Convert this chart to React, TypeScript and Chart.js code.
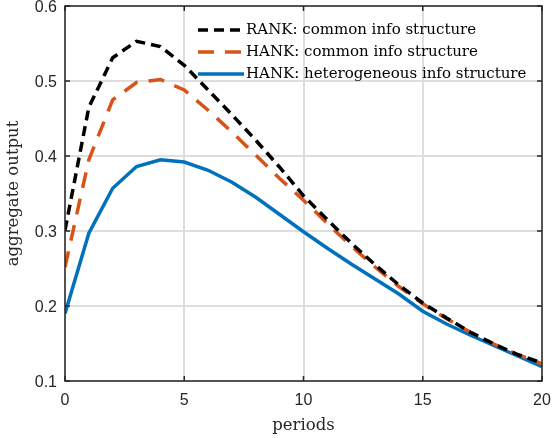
import React, { useEffect, useRef } from "react";
import { Chart, registerables } from "chart.js";

Chart.register(...registerables);

const periods = [0, 1, 2, 3, 4, 5, 6, 7, 8, 9, 10, 11, 12, 13, 14, 15, 16, 17, 18, 19, 20];
const rankCommon = [0.301, 0.465, 0.531, 0.553, 0.546, 0.521, 0.488, 0.455, 0.421, 0.385, 0.347, 0.315, 0.284, 0.255, 0.228, 0.204, 0.184, 0.165, 0.149, 0.135, 0.124];
const hankCommon = [0.252, 0.395, 0.475, 0.498, 0.502, 0.488, 0.461, 0.432, 0.401, 0.37, 0.341, 0.31, 0.28, 0.252, 0.226, 0.203, 0.183, 0.165, 0.149, 0.135, 0.123];
const hankHetero = [0.19, 0.297, 0.357, 0.386, 0.395, 0.392, 0.381, 0.365, 0.345, 0.322, 0.299, 0.277, 0.256, 0.236, 0.216, 0.193, 0.176, 0.161, 0.147, 0.133, 0.119];
const seriesLabels = [
  "RANK: common info structure",
  "HANK: common info structure",
  "HANK: heterogeneous info structure",
];
const xTicks = [0, 5, 10, 15, 20];
const yTicks = [0.1, 0.2, 0.3, 0.4, 0.5, 0.6];

const colors = ["#000000", "#D95319", "#0072BD"];
const dashes = [[10, 6], [16, 11], []];
const serif = '"DejaVu Serif", "Liberation Serif", serif';

const boxPlugin = {
  id: "matlabBox",
  afterDatasetsDraw(chart: any) {
    const { ctx, chartArea, scales } = chart;
    const { left, right, top, bottom } = chartArea;
    ctx.save();
    ctx.strokeStyle = "#262626";
    ctx.lineWidth = 1.5;
    ctx.setLineDash([]);
    ctx.strokeRect(left, top, right - left, bottom - top);
    const tl = 5;
    xTicks.forEach((v) => {
      const x = scales.x.getPixelForValue(v);
      ctx.beginPath();
      ctx.moveTo(x, bottom);
      ctx.lineTo(x, bottom - tl);
      ctx.moveTo(x, top);
      ctx.lineTo(x, top + tl);
      ctx.stroke();
    });
    yTicks.forEach((v) => {
      const y = scales.y.getPixelForValue(v);
      ctx.beginPath();
      ctx.moveTo(left, y);
      ctx.lineTo(left + tl, y);
      ctx.moveTo(right, y);
      ctx.lineTo(right - tl, y);
      ctx.stroke();
    });
    // legend
    ctx.font = "15px " + serif;
    ctx.textBaseline = "middle";
    ctx.textAlign = "left";
    const x0 = left + 133;
    const lineLen = 46;
    seriesLabels.forEach((lab, i) => {
      const y = top + 24 + i * 22;
      ctx.strokeStyle = colors[i];
      ctx.lineWidth = 3.5;
      ctx.setLineDash(dashes[i]);
      ctx.beginPath();
      ctx.moveTo(x0, y);
      ctx.lineTo(x0 + lineLen, y);
      ctx.stroke();
      ctx.setLineDash([]);
      ctx.fillStyle = "#000";
      ctx.fillText(lab, x0 + lineLen + 2, y);
    });
    ctx.restore();
  },
};

export default function App() {
  const ref = useRef<HTMLCanvasElement>(null);
  useEffect(() => {
    if (!ref.current) return;
    const data = [rankCommon, hankCommon, hankHetero];
    const chart = new Chart(ref.current, {
      type: "line",
      data: {
        labels: periods,
        datasets: data.map((d, i) => ({
          label: seriesLabels[i],
          data: periods.map((p, j) => ({ x: p, y: d[j] })),
          borderColor: colors[i],
          borderWidth: 3.5,
          borderDash: dashes[i],
          pointRadius: 0,
          fill: false,
          tension: 0,
        })),
      },
      options: {
        animation: false,
        responsive: false,
        layout: { padding: { left: 0, right: 10, top: 6, bottom: 0 } },
        plugins: { legend: { display: false }, tooltip: { enabled: false } },
        scales: {
          x: {
            type: "linear",
            min: 0,
            max: 20,
            afterBuildTicks: (s: any) => {
              s.ticks = xTicks.map((v) => ({ value: v }));
            },
            afterFit: (s: any) => {
              s.height = 57;
              s.paddingLeft = 0;
              s.paddingRight = 0;
            },
            grid: { color: "#dedede", lineWidth: 2, drawTicks: false },
            border: { display: false },
            ticks: {
              padding: 10,
              color: "#262626",
              font: { family: '"Liberation Sans", Arial, sans-serif', size: 16 },
              callback: (v: any) => String(v),
            },
            title: {
              display: true,
              text: "periods",
              color: "#262626",
              padding: { top: 0, bottom: 2 },
              font: { family: serif, size: 16.5 },
            },
          },
          y: {
            type: "linear",
            min: 0.1,
            max: 0.6,
            afterBuildTicks: (s: any) => {
              s.ticks = yTicks.map((v) => ({ value: v }));
            },
            afterFit: (s: any) => {
              s.width = 65;
              s.paddingTop = 0;
              s.paddingBottom = 0;
            },
            grid: { color: "#dedede", lineWidth: 2, drawTicks: false },
            border: { display: false },
            ticks: {
              padding: 8,
              labelOffset: 2,
              color: "#262626",
              font: { family: '"Liberation Sans", Arial, sans-serif', size: 16 },
              callback: (v: any) => Number(v).toFixed(1),
            },
            title: {
              display: true,
              text: "aggregate output",
              color: "#262626",
              padding: { top: 4, bottom: 0 },
              font: { family: serif, size: 16.5 },
            },
          },
        },
      },
      plugins: [boxPlugin],
    } as any);
    return () => chart.destroy();
  }, []);
  return (
    <div style={{ position: "absolute", left: 0, top: 0, width: 552, height: 438, background: "#fff" }}>
      <canvas ref={ref} width={552} height={438} />
    </div>
  );
}
